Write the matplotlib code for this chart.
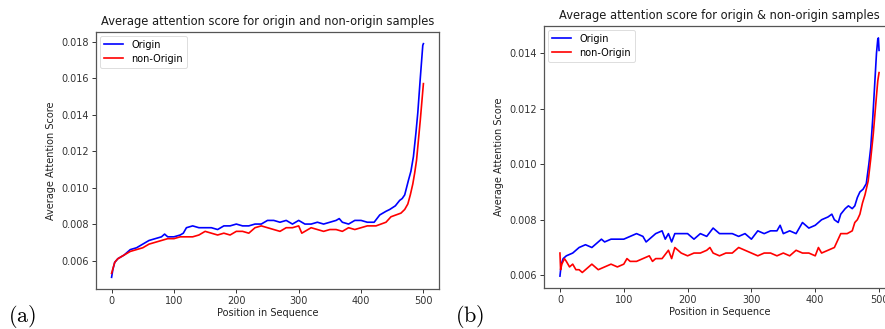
import matplotlib
matplotlib.use("Agg")
import matplotlib.pyplot as plt

plt.rcParams['mathtext.fontset'] = 'cm'

# ---- Panel (a) data ----
a_origin_x = [0, 2, 5, 10, 20, 30, 40, 50, 60, 70, 80, 85, 90, 100, 110, 115, 120, 130, 140, 150,
              160, 170, 180, 190, 200, 210, 220, 230, 240, 250, 260, 270, 280, 290, 300, 310, 320,
              330, 340, 350, 360, 365, 370, 380, 390, 400, 410, 421, 430, 440, 446, 455, 462, 466,
              470, 476, 480, 484, 488, 491, 495, 499, 500]
a_origin_y = [0.00508, 0.0055, 0.0059, 0.0061, 0.0063, 0.0066, 0.0067, 0.0069, 0.0071, 0.0072, 0.0073,
              0.00745, 0.0073, 0.0073, 0.0074, 0.0075, 0.0078, 0.0079, 0.0078, 0.0078, 0.0078, 0.0077,
              0.0079, 0.0079, 0.0080, 0.0079, 0.0079, 0.0080, 0.0080, 0.0082, 0.0082, 0.0081, 0.0082,
              0.0080, 0.0082, 0.0080, 0.0080, 0.0081, 0.0080, 0.0081, 0.0082, 0.0083, 0.0081, 0.0080,
              0.0082, 0.0082, 0.0081, 0.0081, 0.0085, 0.0087, 0.0088, 0.0090, 0.0093, 0.0094, 0.0096,
              0.0104, 0.0109, 0.0117, 0.0130, 0.0141, 0.0160, 0.0178, 0.01789]

a_non_x = [0, 5, 10, 20, 30, 40, 50, 60, 70, 80, 90, 100, 110, 120, 130, 140, 150, 160, 170, 180,
           190, 200, 210, 220, 230, 240, 250, 260, 270, 280, 290, 300, 305, 310, 320, 330, 340, 350,
           360, 370, 380, 390, 400, 410, 424, 432, 440, 448, 456, 464, 470, 475, 479, 483, 486, 489,
           492, 495, 500]
a_non_y = [0.0053, 0.0059, 0.0061, 0.0063, 0.0065, 0.0066, 0.0067, 0.0069, 0.0070, 0.0071, 0.0072,
           0.0072, 0.0073, 0.0073, 0.0073, 0.0074, 0.0076, 0.0075, 0.0074, 0.0075, 0.0074, 0.0076,
           0.0076, 0.0075, 0.0078, 0.0079, 0.0078, 0.0077, 0.0076, 0.0078, 0.0078, 0.0079, 0.0075,
           0.0076, 0.0078, 0.0077, 0.0076, 0.0077, 0.0077, 0.0076, 0.0078, 0.0077, 0.0078, 0.0079,
           0.0079, 0.0080, 0.0081, 0.0084, 0.0085, 0.0086, 0.0088, 0.0091, 0.0096, 0.0102, 0.0108,
           0.0115, 0.0126, 0.0137, 0.0157]

# ---- Panel (b) data ----
b_origin_x = [0, 2, 5, 10, 20, 30, 40, 50, 60, 65, 70, 80, 90, 100, 110, 120, 130, 135, 140, 150,
              160, 165, 170, 175, 180, 190, 200, 210, 220, 230, 240, 250, 260, 270, 280, 290, 300,
              310, 320, 330, 340, 345, 350, 360, 370, 380, 390, 400, 410, 420, 426, 430, 436, 440,
              447, 452, 458, 462, 466, 470, 475, 480, 484, 487, 490, 493, 496, 498, 499, 500]
b_origin_y = [0.00597, 0.0064, 0.0066, 0.0067, 0.0068, 0.0070, 0.0071, 0.0070, 0.0072, 0.0073, 0.0072,
              0.0073, 0.0073, 0.0073, 0.0074, 0.0075, 0.0074, 0.0072, 0.0073, 0.0075, 0.0076, 0.0073,
              0.0075, 0.0072, 0.0075, 0.0075, 0.0075, 0.0073, 0.0075, 0.0074, 0.0077, 0.0075, 0.0075,
              0.0075, 0.0074, 0.0075, 0.0073, 0.0076, 0.0075, 0.0076, 0.0076, 0.0078, 0.0075, 0.0076,
              0.0075, 0.0079, 0.0077, 0.0078, 0.0080, 0.0081, 0.0082, 0.0080, 0.0079, 0.0082, 0.0084,
              0.0085, 0.0084, 0.0085, 0.0088, 0.0090, 0.0091, 0.0093, 0.0100, 0.0106, 0.0116, 0.0128,
              0.0140, 0.0145, 0.01455, 0.0141]

b_non_x = [0, 1, 3, 7, 10, 15, 20, 25, 30, 35, 40, 50, 60, 70, 80, 90, 100, 105, 110, 120, 130, 140,
           145, 150, 160, 170, 175, 180, 190, 200, 210, 220, 230, 235, 240, 250, 260, 270, 280, 290,
           300, 310, 320, 330, 340, 350, 360, 370, 380, 390, 400, 405, 410, 420, 430, 440, 450, 458,
           462, 466, 470, 474, 478, 483, 487, 491, 495, 498, 500]
b_non_y = [0.0068, 0.0062, 0.0064, 0.0066, 0.0065, 0.0063, 0.0064, 0.0062, 0.0062, 0.0061, 0.0062,
           0.0064, 0.0062, 0.0063, 0.0064, 0.0063, 0.0064, 0.0066, 0.0065, 0.0065, 0.0066, 0.0067,
           0.0065, 0.0066, 0.0066, 0.0069, 0.0066, 0.0070, 0.0068, 0.0067, 0.0068, 0.0068, 0.0069,
           0.0070, 0.0068, 0.0067, 0.0068, 0.0068, 0.0070, 0.0069, 0.0068, 0.0067, 0.0068, 0.0068,
           0.0067, 0.0068, 0.0067, 0.0069, 0.0068, 0.0068, 0.0067, 0.0070, 0.0068, 0.0069, 0.0070,
           0.0075, 0.0075, 0.0076, 0.0079, 0.0080, 0.0082, 0.0086, 0.0089, 0.0094, 0.0102, 0.0111,
           0.0122, 0.0130, 0.0133]

titles = ["Average attention score for origin and non-origin samples",
          "Average attention score for origin & non-origin samples"]
labels = ["Origin", "non-Origin"]
xlabel = "Position in Sequence"
ylabel = "Average Attention Score"
panel_tags = [r"$\mathrm{(a)}$", r"$\mathrm{(b)}$"]

W, H = 885, 329
fig = plt.figure(figsize=(W / 100, H / 100), dpi=100)

ax1 = fig.add_axes([96 / W, 40 / H, 343 / W, 257 / H])
ax2 = fig.add_axes([544 / W, 41 / H, 351 / W, 262 / H])

panels = [
    (ax1, a_origin_x, a_origin_y, a_non_x, a_non_y),
    (ax2, b_origin_x, b_origin_y, b_non_x, b_non_y),
]

for i, (ax, ox, oy, nx, ny) in enumerate(panels):
    ax.plot(ox, oy, color="blue", lw=1.2, label=labels[0])
    ax.plot(nx, ny, color="red", lw=1.2, label=labels[1])
    ax.set_title(titles[i], fontsize=8.3, color="#1a1a1a", pad=5)
    ax.set_xlabel(xlabel, fontsize=7, color="#222222", labelpad=2)
    ax.set_ylabel(ylabel, fontsize=7, color="#222222", labelpad=4)
    ax.tick_params(labelsize=7, length=2.8, width=0.7, colors="#333333", pad=2)
    for s in ax.spines.values():
        s.set_color("#555555")
        s.set_linewidth(0.9)
    ax.set_xticks([0, 100, 200, 300, 400, 500])
    leg = ax.legend(loc="upper left", fontsize=7, framealpha=1, borderpad=0.4,
                    handlelength=2.0, labelspacing=0.4, borderaxespad=0.4)
    leg.get_frame().set_edgecolor("#dddddd")
    leg.get_frame().set_linewidth(0.7)

fig.text(8 / W, 1 - 316 / H, panel_tags[0], fontsize=16, va="center", ha="left")
fig.text(455 / W, 1 - 316 / H, panel_tags[1], fontsize=16, va="center", ha="left")

fig.savefig("out.png", dpi=100)
